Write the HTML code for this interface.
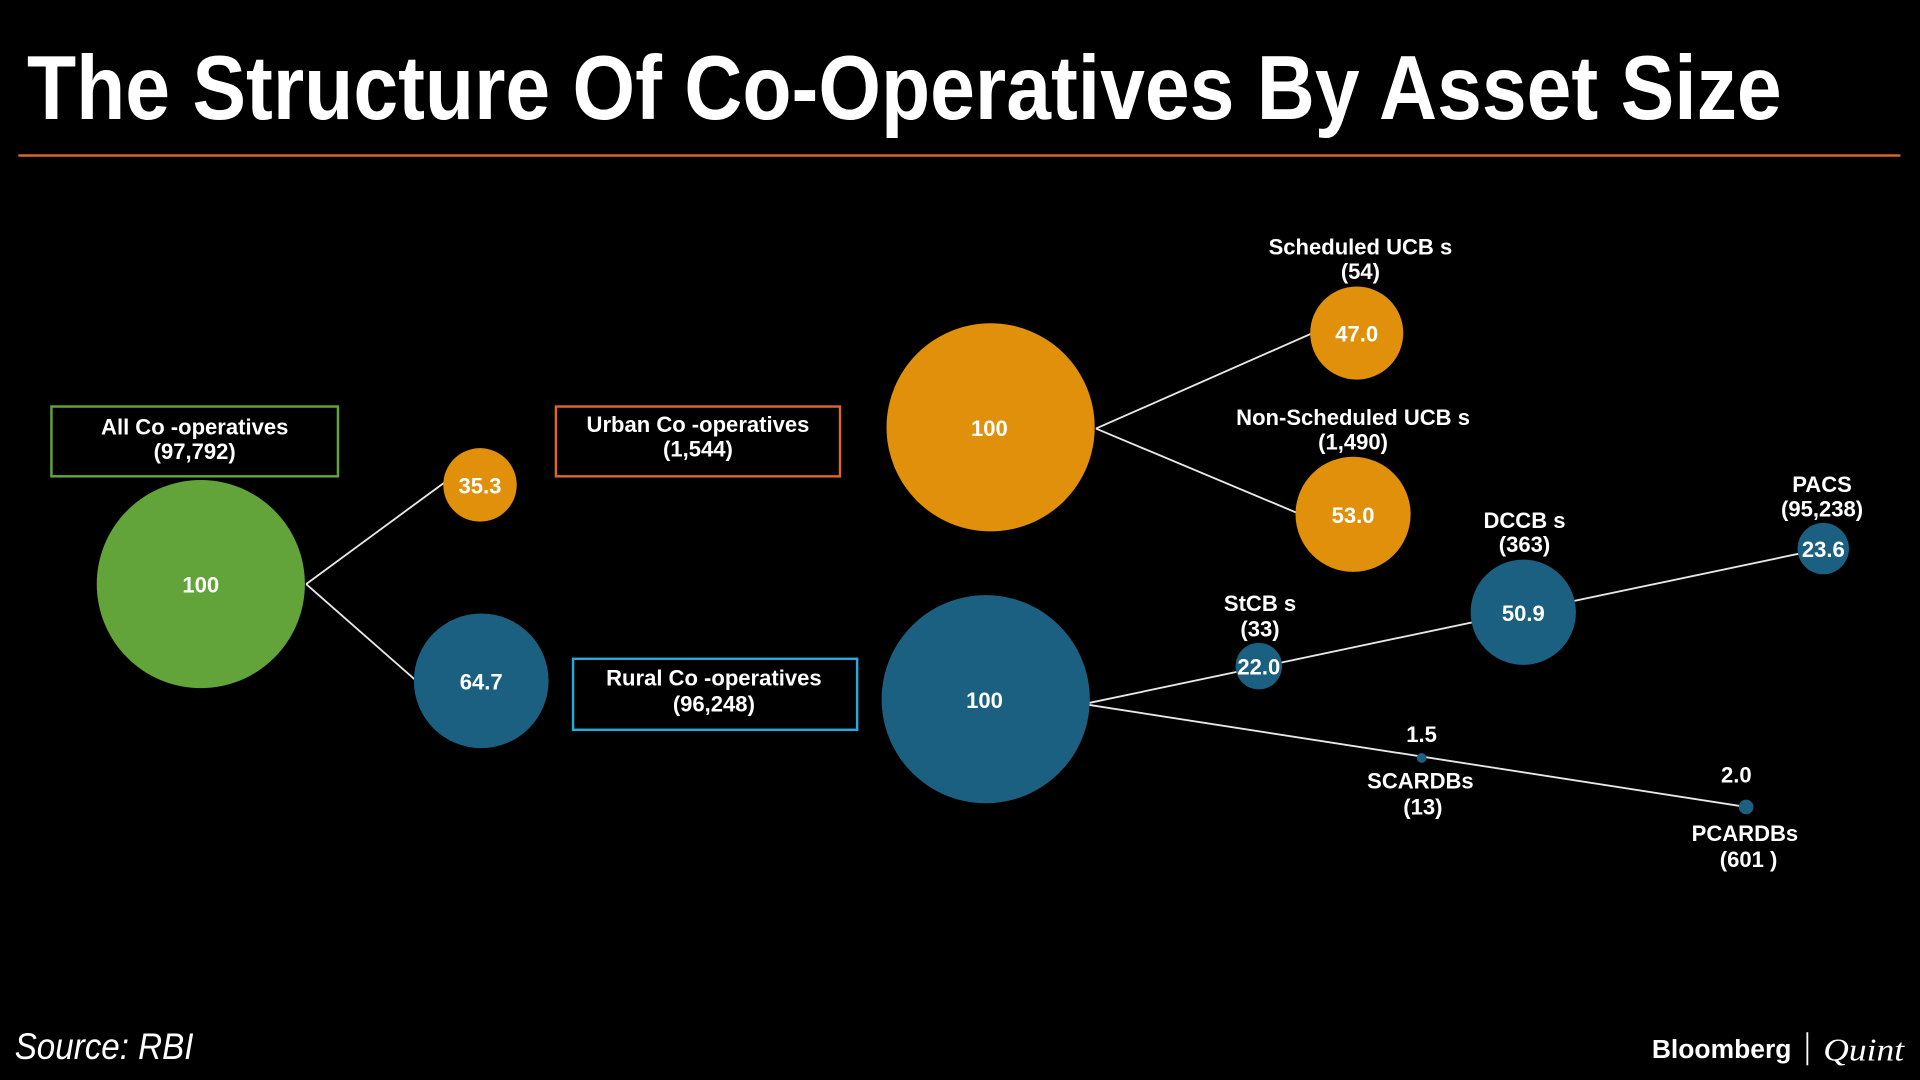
<!DOCTYPE html>
<html><head><meta charset="utf-8"><style>
html,body{margin:0;padding:0;background:#000;width:1920px;height:1080px;overflow:hidden}
svg{display:block}
text{font-family:"Liberation Sans",sans-serif;fill:#fff;font-weight:bold}
</style></head><body>
<svg width="1920" height="1080" viewBox="0 0 1568 882" xmlns="http://www.w3.org/2000/svg">
<rect width="1568" height="882" fill="#000"/>
<text x="22" y="97" font-size="74" style="font-family:'Liberation Sans Narrow','Liberation Sans',sans-serif" textLength="1433" lengthAdjust="spacingAndGlyphs">The Structure Of Co-Operatives By Asset Size</text>
<line x1="15" y1="127" x2="1552" y2="127" stroke="#d9662a" stroke-width="2"/>

<g stroke="#e8e8e8" stroke-width="1.5" fill="none">
<line x1="250" y1="477" x2="363" y2="394"/>
<line x1="250" y1="477" x2="340" y2="556"/>
<line x1="895" y1="350" x2="1072" y2="272"/>
<line x1="895" y1="350" x2="1062" y2="420"/>
<line x1="885" y1="575" x2="1489" y2="448"/>
<line x1="885" y1="575" x2="1426" y2="659"/>
</g>

<rect x="42" y="332" width="234" height="57" fill="none" stroke="#62a43a" stroke-width="2"/>
<rect x="454" y="332" width="232" height="57" fill="none" stroke="#d9662a" stroke-width="2"/>
<rect x="468" y="538" width="232" height="58" fill="none" stroke="#2aa8d8" stroke-width="2"/>

<circle cx="164" cy="477" r="85" fill="#62a43a"/>
<circle cx="392" cy="396" r="30" fill="#e0900a"/>
<circle cx="393" cy="556" r="55" fill="#1b6080"/>
<circle cx="809" cy="349" r="85" fill="#e0900a"/>
<circle cx="805" cy="571" r="85" fill="#1b6080"/>
<circle cx="1108" cy="272" r="38" fill="#e0900a"/>
<circle cx="1105" cy="420" r="47" fill="#e0900a"/>
<circle cx="1028" cy="544" r="19" fill="#1b6080"/>
<circle cx="1244" cy="500" r="43" fill="#1b6080"/>
<circle cx="1489" cy="448" r="21" fill="#1b6080"/>
<circle cx="1161" cy="619" r="4" fill="#1b6080"/>
<circle cx="1426" cy="659" r="6" fill="#1b6080"/>

<g font-size="18" text-anchor="middle">
<text x="164" y="484" fill="#e8e8e8">100</text>
<text x="392" y="403">35.3</text>
<text x="393" y="563">64.7</text>
<text x="808" y="356">100</text>
<text x="804" y="578">100</text>
<text x="1108" y="279">47.0</text>
<text x="1105" y="427">53.0</text>
<text x="1028" y="551">22.0</text>
<text x="1244" y="507">50.9</text>
<text x="1489" y="455">23.6</text>
<text x="1161" y="606">1.5</text>
<text x="1418" y="639">2.0</text>

<text x="159" y="355">All Co -operatives</text>
<text x="159" y="375">(97,792)</text>
<text x="570" y="353">Urban Co  -operatives</text>
<text x="570" y="373">(1,544)</text>
<text x="583" y="560">Rural Co  -operatives</text>
<text x="583" y="581">(96,248)</text>
<text x="1111" y="208">Scheduled  UCB s</text>
<text x="1111" y="228">(54)</text>
<text x="1105" y="347">Non-Scheduled  UCB s</text>
<text x="1105" y="367">(1,490)</text>
<text x="1245" y="431">DCCB s</text>
<text x="1245" y="451">(363)</text>
<text x="1488" y="402">PACS</text>
<text x="1488" y="422">(95,238)</text>
<text x="1029" y="499">StCB s</text>
<text x="1029" y="520">(33)</text>
<text x="1160" y="644">SCARDBs</text>
<text x="1162" y="665">(13)</text>
<text x="1425" y="687">PCARDBs</text>
<text x="1428" y="708">(601 )</text>
</g>

<text x="12" y="865" font-size="30" font-style="italic" style="font-weight:normal" textLength="146" lengthAdjust="spacingAndGlyphs">Source: RBI</text>
<text x="1349" y="864" font-size="21" textLength="114" lengthAdjust="spacingAndGlyphs">Bloomberg</text>
<line x1="1476" y1="843" x2="1476" y2="870" stroke="#fff" stroke-width="1.5"/>
<text x="1489" y="866" font-size="26" font-style="italic" style="font-family:'Liberation Serif',serif;font-weight:normal" textLength="66" lengthAdjust="spacingAndGlyphs">Quint</text>
</svg>
</body></html>
